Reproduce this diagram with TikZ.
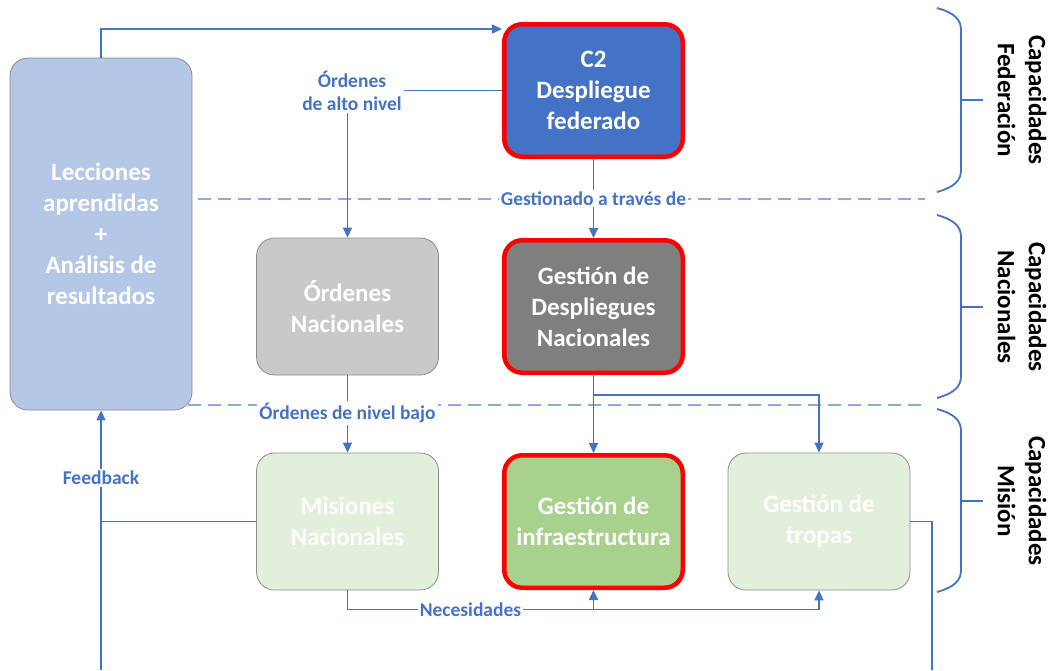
\documentclass[tikz,border=0pt]{standalone}
\usepackage{fontspec}
\setmainfont{Carlito}
\usetikzlibrary{arrows.meta,calc}
\definecolor{linkblue}{HTML}{4472C4}
\definecolor{dashblue}{HTML}{8FAADC}
\definecolor{lessonfill}{HTML}{B4C7E7}
\definecolor{fedfill}{HTML}{4472C4}
\definecolor{ordfill}{HTML}{C9C9C9}
\definecolor{natfill}{HTML}{7F7F7F}
\definecolor{paleg}{HTML}{E2EFDA}
\definecolor{greenfill}{HTML}{A9D18E}
\definecolor{boxedge}{HTML}{8C8C8C}
\tikzset{
  box/.style={draw=boxedge, line width=0.8pt, rounded corners=18pt,
    minimum width=182pt, minimum height=137pt, align=center,
    text=white, font=\bfseries\fontsize{25}{31}\selectfont},
  keybox/.style={box, draw=red, line width=4.5pt,
    minimum width=178.5pt, minimum height=132.5pt},
  conn/.style={draw=linkblue, line width=1.5pt},
  arr/.style={conn, -{Triangle[length=10pt,width=9pt]}},
  lbl/.style={text=linkblue, align=center, inner sep=2pt,
    font=\bfseries\fontsize{19.5}{23}\selectfont},
  lblw/.style={lbl, fill=white},
  layer/.style={draw=dashblue, line width=1.4pt, dash pattern=on 13pt off 7pt},
  brace/.style={draw=linkblue, line width=1.8pt},
  tier/.style={rotate=-90, align=center, text=black,
    font=\bfseries\fontsize{25}{31}\selectfont}
}
\begin{document}
\begin{tikzpicture}[x=1pt,y=-1pt]
\useasboundingbox (0,0) rectangle (1050,670);

% layer separators
\draw[layer] (198,199) -- (925,199);
\draw[layer] (188,405) -- (925,405);

% boxes
\node[box, fill=lessonfill, minimum height=352pt] (lec) at (101,234)
  {Lecciones\\aprendidas\\+\\Análisis de\\resultados};
\node[keybox, fill=fedfill] (c2) at (593.5,90.5) {C2\\Despliegue\\federado};
\node[box, fill=ordfill] (onac) at (347.5,306.5) {Órdenes\\Nacionales};
\node[keybox, fill=natfill] (gdn) at (593.5,306.5) {Gestión de\\Despliegues\\Nacionales};
\node[box, fill=paleg] (mis) at (347.5,521.5) {Misiones\\Nacionales};
\node[keybox, fill=greenfill] (infra) at (593.5,521.5) {Gestión de\\infraestructura};
\node[box, fill=paleg] (trop) at (819,521.5) {Gestión de\\tropas};

% feedback loop to the federation
\coordinate (toprow) at (0,29);
\draw[arr] (lec.north) |- (c2.west |- toprow);

% high level orders
\draw[arr] (c2.west) -| (onac.north);
\node[lblw] (hl) at (352,91) {Órdenes\\de alto nivel};

% federation managed through national deployments
\draw[arr] (c2.south) -- (gdn.north) node[lblw, midway] (via) {Gestionado a través de};

% national deployments to infrastructure and troops
\draw[arr] (gdn.south) -- (infra.north);
\draw[arr] (gdn.south) -- ++(0,20) -| (trop.north);

% low level orders
\draw[arr] (onac.south) -- (mis.north) node[lblw, pos=0.49] (ll) {Órdenes de nivel bajo};

% needs
\coordinate (nec) at ($(mis.south)+(0,19)$);
\draw[arr] (mis.south) -- (nec) -| (infra.south);
\draw[arr] (nec) -| (trop.south);
\node[lblw] (needs) at ($(nec)!0.5!(infra.south |- nec)$) {Necesidades};

% feedback
\coordinate (fbot) at (101,670);
\draw[arr] (fbot) -- (lec.south) node[lblw, pos=0.74] (fb) {Feedback};
\draw[conn] (mis.west) -- (lec.south |- mis.west);

% troops outflow
\coordinate (tout) at (932,670);
\draw[conn] (trop.east) -| (tout);

% tier braces
\draw[brace] (937,8) .. controls (955,13) and (961,20) .. (961,30) -- (961,170)
  .. controls (961,180) and (955,187) .. (937,192);
\draw[brace] (961,100) -- (983,100);
\draw[brace] (937,215) .. controls (955,220) and (961,227) .. (961,237) -- (961,376)
  .. controls (961,386) and (955,393) .. (937,398);
\draw[brace] (961,307) -- (983,307);
\draw[brace] (937,409) .. controls (955,414) and (961,421) .. (961,431) -- (961,570)
  .. controls (961,580) and (955,587) .. (937,592);
\draw[brace] (961,501) -- (983,501);

\node[tier] (tfed) at (1022,100) {Capacidades\\Federación};
\node[tier] (tnat) at (1022,307) {Capacidades\\Nacionales};
\node[tier] (tmis) at (1022,501) {Capacidades\\Misión};
\end{tikzpicture}
\end{document}
